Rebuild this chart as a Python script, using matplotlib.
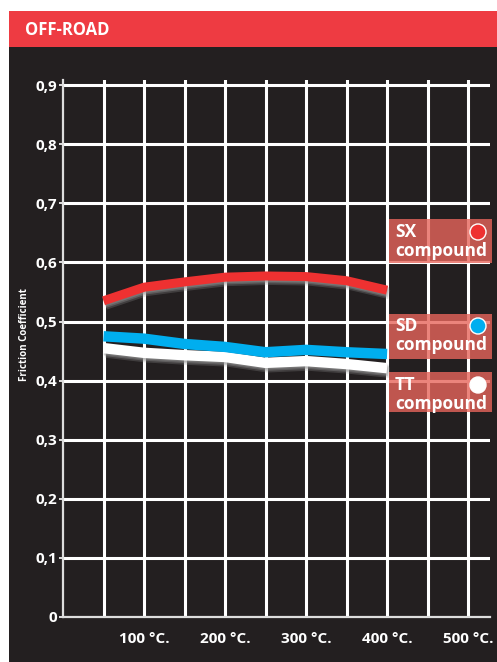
import matplotlib
matplotlib.use("Agg")
import matplotlib.pyplot as plt
import matplotlib.patches as mpatches
import matplotlib.patheffects as pe

# ---- data ----
temps = [50, 100, 150, 200, 250, 300, 350, 400]
sx = [0.535, 0.558, 0.567, 0.575, 0.577, 0.576, 0.569, 0.553]
sd = [0.475, 0.471, 0.462, 0.457, 0.448, 0.452, 0.448, 0.445]
tt = [0.455, 0.447, 0.443, 0.440, 0.430, 0.433, 0.428, 0.421]
yticks = [0, 0.1, 0.2, 0.3, 0.4, 0.5, 0.6, 0.7, 0.8, 0.9]
ytick_labels = ["0", "0,1", "0,2", "0,3", "0,4", "0,5", "0,6", "0,7", "0,8", "0,9"]
xticks = [100, 200, 300, 400, 500]
xtick_labels = ["100 °C.", "200 °C.", "300 °C.", "400 °C.", "500 °C."]
series_names = ["SX", "SD", "TT"]
series_colors = ["#ee3131", "#00aeef", "#ffffff"]

W, H = 497, 662
fig = plt.figure(figsize=(W / 100, H / 100), dpi=100)
fig.patch.set_facecolor("white")
FONT = ["Open Sans", "DejaVu Sans"]

def fx(px):
    return px / W

def fy(py):
    return 1 - py / H

# dark panel and red header
fig.add_artist(mpatches.Rectangle((fx(9), 0), fx(W - 9), fy(47), transform=fig.transFigure,
                                  facecolor="#231f20", edgecolor="none", zorder=0))
fig.add_artist(mpatches.Rectangle((fx(9), fy(47)), fx(W - 9), fy(11) - fy(47), transform=fig.transFigure,
                                  facecolor="#ee3b42", edgecolor="none", zorder=0))
fig.text(fx(25), fy(30), "OFF-ROAD", color="white", fontsize=12, fontweight="bold",
         family=FONT, va="center", ha="left")

# axes
x0, x1 = 63, 490
y0 = 617
ymax = 0.908
px_per_unit = 591
ytop = y0 - ymax * px_per_unit
ax = fig.add_axes([fx(x0), fy(y0), fx(x1 - x0), (y0 - ytop) / H])
ax.set_facecolor("none")
ax.set_xlim(0, 527)
ax.set_ylim(0, ymax)

for xv in range(50, 501, 50):
    ax.axvline(xv, color="white", lw=2.2, zorder=1)
for yv in yticks[1:]:
    ax.axhline(yv, color="white", lw=2.2, zorder=1)

for s in ["top", "right"]:
    ax.spines[s].set_visible(False)
for s in ["left", "bottom"]:
    ax.spines[s].set_color("#dddddd")
    ax.spines[s].set_linewidth(1.6)

ax.set_yticks(yticks)
ax.set_yticklabels(ytick_labels)
ax.set_xticks(xticks)
ax.set_xticklabels(xtick_labels)
ax.tick_params(axis="y", colors="white", length=3, width=1.2, pad=1, labelsize=11)
ax.tick_params(axis="x", colors="white", length=0, pad=11, labelsize=11)
for lab in ax.get_xticklabels() + ax.get_yticklabels():
    lab.set_fontweight("bold")
    lab.set_family(FONT)

fig.text(fx(25), fy(335), "Friction Coefficient", color="white", fontsize=7, fontweight="bold",
         family=FONT, rotation=90, va="center", ha="center")

shadow = [pe.SimpleLineShadow(offset=(1.5, -3.2), shadow_color="#9a9a9a", alpha=0.25),
          pe.SimpleLineShadow(offset=(1, -2), shadow_color="#9a9a9a", alpha=0.35),
          pe.SimpleLineShadow(offset=(0.5, -1), shadow_color="#9a9a9a", alpha=0.4),
          pe.Normal()]
ax.plot(temps, tt, color=series_colors[2], lw=7.5, solid_capstyle="butt", zorder=3, path_effects=shadow)
ax.plot(temps, sd, color=series_colors[1], lw=7.5, solid_capstyle="butt", zorder=4)
ax.plot(temps, sx, color=series_colors[0], lw=6.5, solid_capstyle="butt", zorder=5, path_effects=shadow)

# legend boxes
boxes = [(219, 263, 232), (314, 359, 326), (372, 412, 385)]
for (top, bot, cy), name, col in zip(boxes, series_names, series_colors):
    fig.add_artist(mpatches.Rectangle((fx(389), fy(bot)), fx(492 - 389), fy(top) - fy(bot),
                                      transform=fig.transFigure, facecolor="#e7655b", alpha=0.8,
                                      edgecolor="none", zorder=6))
    fig.text(fx(395), fy(cy), name, color="white", fontsize=12.5, fontweight="bold",
             family=FONT, va="center", ha="left", zorder=7)
    fig.text(fx(395), fy(cy + 19), "compound", color="white", fontsize=12.5, fontweight="bold",
             family=FONT, va="center", ha="left", zorder=7)
    fig.add_artist(mpatches.Ellipse((fx(478), fy(cy)), 16 / W, 16 / H, transform=fig.transFigure,
                                    facecolor=col, edgecolor="white", lw=1, zorder=7))

fig.savefig("out.png", dpi=100, facecolor=fig.get_facecolor())
